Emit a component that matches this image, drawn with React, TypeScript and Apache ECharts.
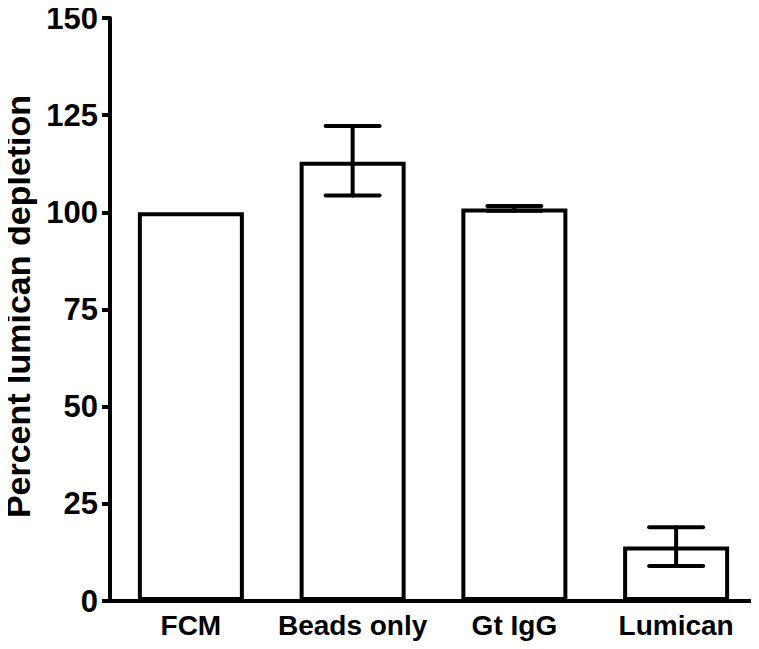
import React, { useEffect, useRef } from "react";
import * as echarts from "echarts";

const categories = ["FCM", "Beads only", "Gt IgG", "Lumican"];
const means = [100, 113, 101, 14];
const errLow = [100, 104.3, 100.4, 9];
const errHigh = [100, 122.2, 101.6, 19];
const yTicks = { min: 0, max: 150, interval: 25 };

const FONT = "'Liberation Sans', Arial, sans-serif";

export default function App() {
  const ref = useRef<HTMLDivElement>(null);
  useEffect(() => {
    if (!ref.current) return;
    const chart = echarts.init(ref.current, null, { renderer: "svg" });
    const errData = categories.map((_, i) => [i, errLow[i], errHigh[i]]);
    chart.setOption({
      animation: false,
      backgroundColor: "#ffffff",
      grid: {
        left: 110,
        right: 2,
        top: 18,
        bottom: 48,
        containLabel: false,
        outerBoundsMode: "none",
      },
      xAxis: {
        type: "category",
        data: categories,
        axisLine: { lineStyle: { color: "#000", width: 4 } },
        axisTick: { show: false },
        axisLabel: {
          interval: 0,
          color: "#000",
          fontFamily: FONT,
          fontWeight: "bold",
          fontSize: 28,
          margin: 10,
        },
      },
      yAxis: {
        type: "value",
        min: yTicks.min,
        max: yTicks.max,
        interval: yTicks.interval,
        name: "Percent lumican depletion",
        nameLocation: "middle",
        nameGap: 72,
        nameTextStyle: {
          color: "#000",
          fontFamily: FONT,
          fontWeight: "bold",
          fontSize: 34,
          lineHeight: 34,
          padding: [0, 0, 0, 6],
        },
        splitLine: { show: false },
        axisLine: { show: true, lineStyle: { color: "#000", width: 4 } },
        axisTick: { show: true, length: 8, lineStyle: { color: "#000", width: 4 } },
        axisLabel: {
          color: "#000",
          fontFamily: FONT,
          fontWeight: "bold",
          fontSize: 31,
          margin: 12,
        },
      },
      series: [
        {
          type: "bar",
          data: means,
          barWidth: 106,
          itemStyle: { color: "#ffffff", borderColor: "#000", borderWidth: 4 },
          z: 2,
        },
        {
          type: "custom",
          data: errData,
          z: 3,
          renderItem: (params: any, api: any) => {
            const x = api.value(0);
            const lo = api.coord([x, api.value(1)]);
            const hi = api.coord([x, api.value(2)]);
            const hw = 27;
            const style = { stroke: "#000", lineWidth: 4, lineCap: "round" };
            if (api.value(1) === api.value(2)) return { type: "group", children: [] };
            return {
              type: "group",
              children: [
                { type: "line", shape: { x1: lo[0], y1: lo[1], x2: hi[0], y2: hi[1] }, style },
                { type: "line", shape: { x1: hi[0] - hw, y1: hi[1], x2: hi[0] + hw, y2: hi[1] }, style },
                { type: "line", shape: { x1: lo[0] - hw, y1: lo[1], x2: lo[0] + hw, y2: lo[1] }, style },
              ],
            };
          },
        },
      ],
    });
    return () => chart.dispose();
  }, []);
  return <div ref={ref} style={{ width: 759, height: 649, margin: -8 }} />;
}
